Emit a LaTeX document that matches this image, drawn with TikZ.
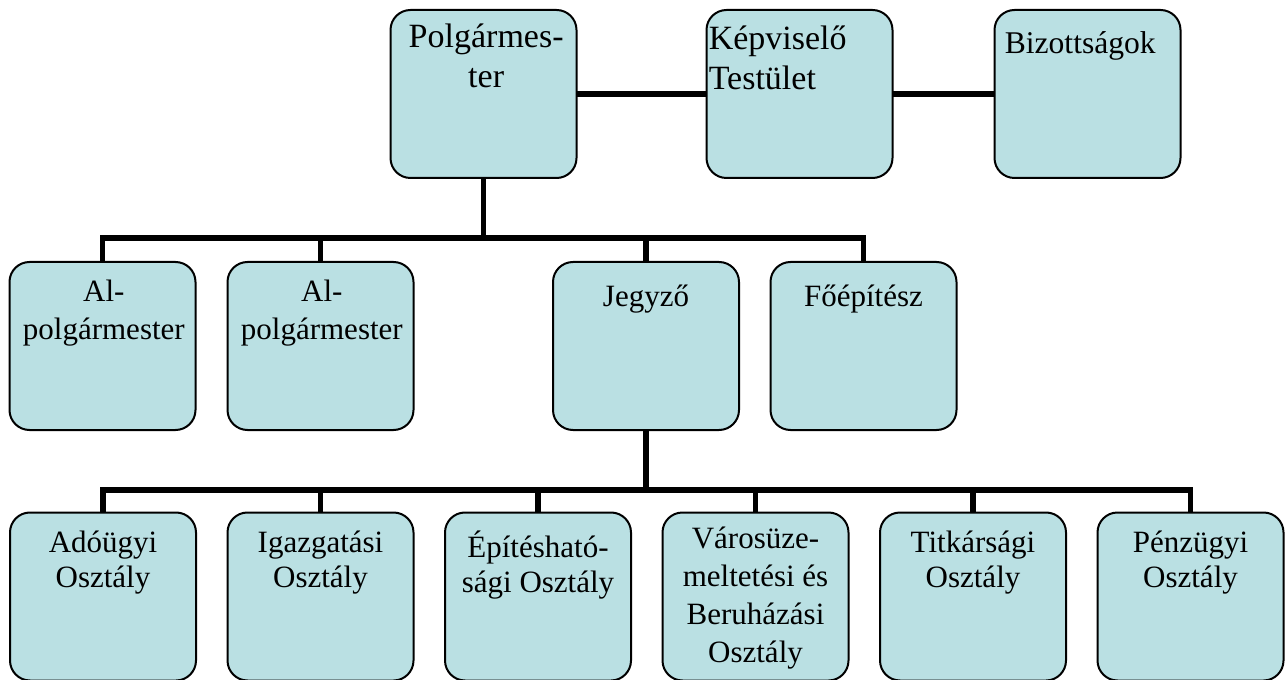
\documentclass[tikz,border=0pt]{standalone}
\usepackage{fontspec}
\setmainfont{Liberation Serif}
\definecolor{boxfill}{RGB}{186,224,227}
\begin{document}
\begin{tikzpicture}[x=0.75pt,y=-0.75pt,
  box/.style={draw=black, line width=1.5pt, fill=boxfill, rounded corners=15pt,
    minimum width=139.5pt, minimum height=126pt, inner sep=0pt, outer sep=0pt},
  txt/.style={inner sep=0pt, align=center, font=\fontsize{23.25}{28.5}\selectfont,
    execute at begin node=\strut},
  big/.style={font=\fontsize{25.5}{30}\selectfont},
  conn/.style={line width=4.3pt, line join=miter}]
\useasboundingbox (0,0) rectangle (1287,680);
\coordinate (b1) at (0,238);
\coordinate (b2) at (0,490);
% top row
\node[box] (p) at (483.5,94) {};
\node[box] (k) at (799.5,94) {};
\node[box] (bz) at (1087.5,94) {};
% middle row
\node[box] (a1) at (102.5,346) {};
\node[box] (a2) at (320.5,346) {};
\node[box] (j) at (646,346) {};
\node[box] (f) at (863.5,346) {};
% bottom row
\node[box] (o1) at (103,596.5) {};
\node[box] (o2) at (320.5,596.5) {};
\node[box] (o3) at (538,596.5) {};
\node[box] (o4) at (755.5,596.5) {};
\node[box] (o5) at (973,596.5) {};
\node[box] (o6) at (1190.5,596.5) {};
% texts
\node[txt,big,anchor=north] (pt) at ([xshift=2pt,yshift=-10.5pt]p.north) {Polgármes-\\ter};
\node[txt,big,anchor=north west,align=left] (kt) at ([xshift=1.5pt,yshift=-11.75pt]k.north west) {Képviselő\\Testület};
\node[txt,anchor=north west,align=left,font=\fontsize{23.7}{28.5}\selectfont] (bt) at ([xshift=7.5pt,yshift=-12.25pt]bz.north west) {Bizottságok};
\node[txt,anchor=north] (a1t) at ([xshift=1pt,yshift=-13pt]a1.north) {Al-\\polgármester};
\node[txt,anchor=north] (a2t) at ([xshift=1pt,yshift=-13pt]a2.north) {Al-\\polgármester};
\node[txt,anchor=north] (jt) at ([yshift=-13pt]j.north) {Jegyző};
\node[txt,anchor=north] (ft) at ([yshift=-13pt]f.north) {Főépítész};
\node[txt,anchor=north] (o1t) at ([yshift=-13.75pt]o1.north) {Adóügyi\\[-2.25pt]Osztály};
\node[txt,anchor=north] (o2t) at ([yshift=-13.75pt]o2.north) {Igazgatási\\[-2.25pt]Osztály};
\node[txt,anchor=north] (o3t) at ([yshift=-13.75pt]o3.north) {Építésható-\\[-2.25pt]sági Osztály};
\node[txt,anchor=north] (o4t) at ([yshift=-10.75pt]o4.north) {Városüze-\\meltetési és\\Beruházási\\Osztály};
\node[txt,anchor=north] (o5t) at ([yshift=-13.75pt]o5.north) {Titkársági\\[-2.25pt]Osztály};
\node[txt,anchor=north] (o6t) at ([yshift=-13.75pt]o6.north) {Pénzügyi\\[-2.25pt]Osztály};
% connectors
\draw[conn] (p.east) -- (k.west);
\draw[conn] (k.east) -- (bz.west);
\foreach \c in {a1,a2,j,f}
  \draw[conn] (p.south) -- (p.south |- b1) -| (\c.north);
\foreach \c in {o1,o2,o3,o4,o5,o6}
  \draw[conn] (j.south) -- (j.south |- b2) -| (\c.north);
\end{tikzpicture}
\end{document}
